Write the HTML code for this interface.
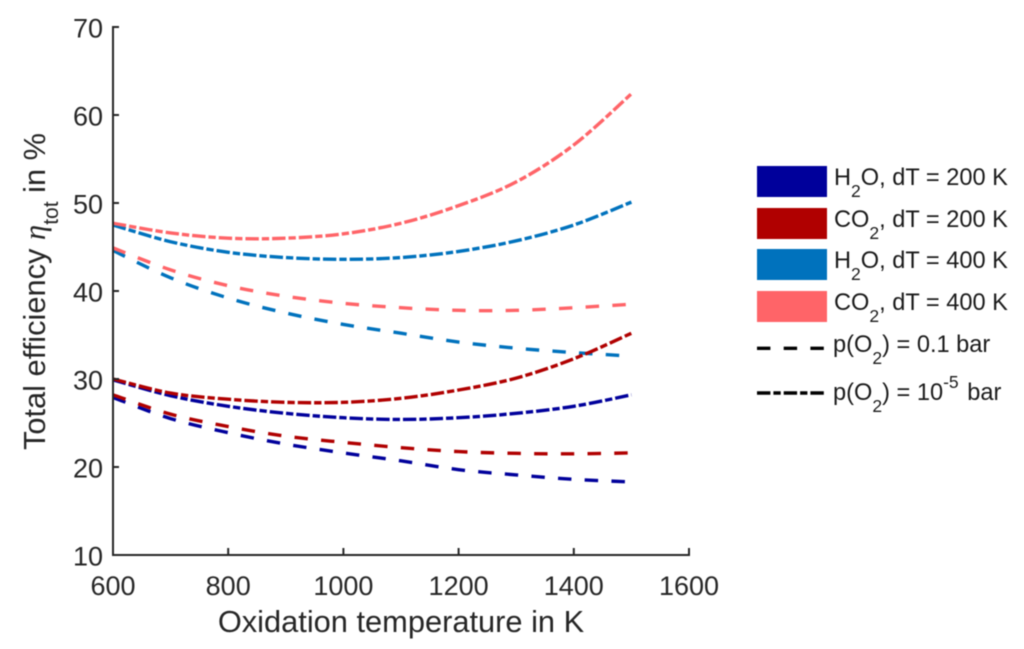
<!DOCTYPE html>
<html>
<head>
<meta charset="utf-8">
<style>
html,body{margin:0;padding:0;background:#fff;width:1024px;height:649px;overflow:hidden}
svg{display:block;filter:blur(0.4px)}
text{font-family:"Liberation Sans",sans-serif;fill:#262626}
.tick{font-size:27px}
.label{font-size:30.8px}
.leg{font-size:23.6px;fill:#1a1a1a}
</style>
</head>
<body>
<svg id="chart" width="1024" height="649" viewBox="0 0 1024 649" xmlns="http://www.w3.org/2000/svg">
  <g id="series" fill="none"></g>
  <g id="axes"></g>
  <text class="label" x="401" y="632" text-anchor="middle">Oxidation temperature in K</text>
  <text class="label" transform="translate(45,291.5) rotate(-90)" text-anchor="middle">Total efficiency <tspan font-style="italic" style="font-family:'Liberation Serif',serif">η</tspan><tspan font-size="21" dy="13">tot</tspan><tspan dy="-13"> in %</tspan></text>
  <g>
    <rect x="757" y="166" width="70" height="31" fill="#00009b"/>
    <text class="leg" x="834" y="185">H<tspan font-size="17.5" dy="12">2</tspan><tspan dy="-12">O, dT = 200 K</tspan></text>
    <rect x="757" y="208" width="70" height="31" fill="#b00000"/>
    <text class="leg" x="834" y="227">CO<tspan font-size="17.5" dy="12">2</tspan><tspan dy="-12">, dT = 200 K</tspan></text>
    <rect x="757" y="249" width="70" height="31" fill="#0072bd"/>
    <text class="leg" x="834" y="268">H<tspan font-size="17.5" dy="12">2</tspan><tspan dy="-12">O, dT = 400 K</tspan></text>
    <rect x="757" y="291" width="70" height="31" fill="#ff6468"/>
    <text class="leg" x="834" y="310">CO<tspan font-size="17.5" dy="12">2</tspan><tspan dy="-12">, dT = 400 K</tspan></text>
    <line x1="757" y1="348.3" x2="825" y2="348.3" stroke="#000" stroke-width="3.4" stroke-dasharray="13.4 13.3"/>
    <text class="leg" x="833" y="352">p(O<tspan font-size="17.5" dy="12">2</tspan><tspan dy="-12">) = 0.1 bar</tspan></text>
    <line x1="757" y1="393" x2="825" y2="393" stroke="#000" stroke-width="3.4" stroke-dasharray="13.4 3 7.3 3"/>
    <text class="leg" x="833" y="400">p(O<tspan font-size="17.5" dy="12">2</tspan><tspan dy="-12">) = 10</tspan><tspan font-size="17.5" dy="-12">-5</tspan><tspan dy="12" dx="2"> bar</tspan></text>
  </g>
</svg>
<script>
const temperatures = [600,700,800,900,1000,1100,1200,1300,1400,1500];
const xTicks = [600,800,1000,1200,1400,1600];
const yTicks = [10,20,30,40,50,60,70];
const co2Hot10m5 = [47.7,46.6,46.0,46.0,46.5,47.7,49.7,52.4,56.6,62.4];
const h2oHot10m5 = [47.5,45.6,44.4,43.8,43.6,43.8,44.5,45.7,47.5,50.1];
const co2HotTenth = [44.9,42.4,40.6,39.4,38.6,38.1,37.8,37.8,38.1,38.5];
const h2oHotTenth = [44.6,41.5,39.2,37.5,36.2,35.2,34.2,33.5,33.0,32.6];
const co2Cool10m5 = [30.0,28.4,27.7,27.35,27.35,27.8,28.75,30.1,32.3,35.2];
const h2oCool10m5 = [29.9,28.1,26.9,26.1,25.6,25.4,25.6,26.1,26.9,28.2];
const co2CoolTenth = [28.2,26.0,24.6,23.5,22.8,22.2,21.75,21.55,21.5,21.6];
const h2oCoolTenth = [27.9,25.5,23.9,22.6,21.6,20.7,19.7,19.1,18.6,18.3];

const SVGNS = 'http://www.w3.org/2000/svg';
const xScale = v => 113 + (v - 600) * (689 - 113) / 1000;
const yScale = v => 555 - (v - 10) * (555 - 27) / 60;

function smoothPath(xs, ys) {
  const p = xs.map((x, i) => [xScale(x), yScale(ys[i])]);
  let d = 'M' + p[0][0] + ' ' + p[0][1];
  for (let i = 0; i < p.length - 1; i++) {
    const a = p[Math.max(i - 1, 0)], b = p[i], c = p[i + 1], e = p[Math.min(i + 2, p.length - 1)];
    d += ' C' + (b[0] + (c[0] - a[0]) / 6) + ' ' + (b[1] + (c[1] - a[1]) / 6) + ' ' +
         (c[0] - (e[0] - b[0]) / 6) + ' ' + (c[1] - (e[1] - b[1]) / 6) + ' ' + c[0] + ' ' + c[1];
  }
  return d;
}

const DASHED = '13.4 13.3';
const DASHDOT = '13.4 3 7.3 3';
const seriesGroup = document.getElementById('series');
function addSeries(name, values, color, dash) {
  const path = document.createElementNS(SVGNS, 'path');
  
  
  path.setAttribute('d', smoothPath(temperatures, values));
  path.setAttribute('stroke', color);
  path.setAttribute('stroke-width', '3.4');
  path.setAttribute('stroke-dasharray', dash);
  seriesGroup.appendChild(path);
}
addSeries('line-h2o-200-dashed', h2oCoolTenth, '#00009b', DASHED);
addSeries('line-co2-200-dashed', co2CoolTenth, '#b00000', DASHED);
addSeries('line-h2o-200-dashdot', h2oCool10m5, '#00009b', DASHDOT);
addSeries('line-h2o-400-dashed', h2oHotTenth, '#0072bd', DASHED);
addSeries('line-co2-200-dashdot', co2Cool10m5, '#b00000', DASHDOT);
addSeries('line-h2o-400-dashdot', h2oHot10m5, '#0072bd', DASHDOT);
addSeries('line-co2-400-dashed', co2HotTenth, '#ff6468', DASHED);
addSeries('line-co2-400-dashdot', co2Hot10m5, '#ff6468', DASHDOT);

const axesGroup = document.getElementById('axes');
function addLine(name, x1, y1, x2, y2) {
  const l = document.createElementNS(SVGNS, 'line');
  
  
  l.setAttribute('x1', x1);
  l.setAttribute('y1', y1);
  l.setAttribute('x2', x2);
  l.setAttribute('y2', y2);
  l.setAttribute('stroke', '#262626');
  l.setAttribute('stroke-width', '2');
  axesGroup.appendChild(l);
}
function addText(name, x, y, anchor, str) {
  const t = document.createElementNS(SVGNS, 'text');
  
  
  t.setAttribute('class', 'tick');
  t.setAttribute('x', x);
  t.setAttribute('y', y);
  t.setAttribute('text-anchor', anchor);
  t.textContent = str;
  axesGroup.appendChild(t);
}
addLine('x-axis-line', 112, yScale(10), xScale(1600) + 1, yScale(10));
addLine('y-axis-line', xScale(600), yScale(70) - 1, xScale(600), yScale(10) + 1);
xTicks.forEach(v => {
  addLine('x-tick', xScale(v), yScale(10), xScale(v), yScale(10) - 7);
  addText('x-tick-label', xScale(v), 595, 'middle', String(v));
});
yTicks.forEach(v => {
  addLine('y-tick', xScale(600), yScale(v), xScale(600) + 6, yScale(v));
  addText('y-tick-label', 103, yScale(v) + 10.5, 'end', String(v));
});
</script>
</body>
</html>
